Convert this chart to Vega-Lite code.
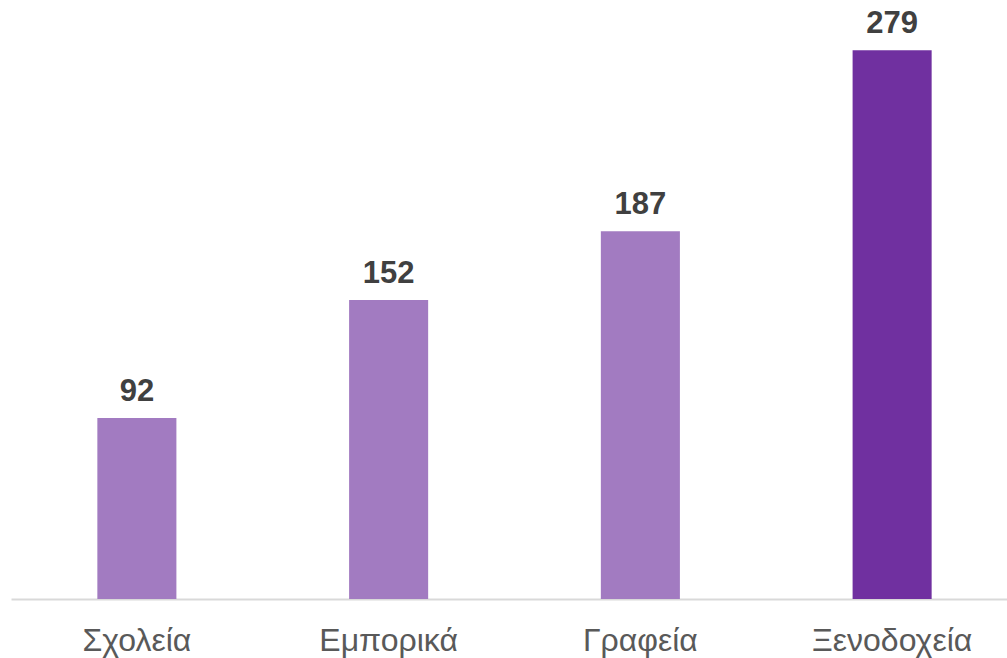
{
  "$schema": "https://vega.github.io/schema/vega-lite/v6.json",
  "width": 1007,
  "height": 590,
  "autosize": {"type": "none"},
  "padding": {"left": 11, "top": 9, "right": 0, "bottom": 59},
  "background": "white",
  "config": {"view": {"stroke": null}, "font": "Liberation Sans"},
  "data": {"values": [
    {"category": "Σχολεία", "value": 92, "highlight": "no"},
    {"category": "Εμπορικά", "value": 152, "highlight": "no"},
    {"category": "Γραφεία", "value": 187, "highlight": "no"},
    {"category": "Ξενοδοχεία", "value": 279, "highlight": "yes"}
  ]},
  "encoding": {
    "x": {"field": "category", "type": "nominal", "sort": null,
      "scale": {"paddingInner": 0.686, "paddingOuter": 0.343},
      "axis": {"title": null, "ticks": false, "domainColor": "#D9D9D9", "domainWidth": 2,
        "labelFont": "Liberation Sans", "labelFontSize": 32, "labelColor": "#595959",
        "labelAngle": 0, "labelBaseline": "alphabetic", "labelPadding": 51}},
    "y": {"field": "value", "type": "quantitative", "scale": {"domain": [0, 300]}, "axis": null}
  },
  "layer": [
    {"mark": {"type": "bar"},
     "encoding": {"color": {"field": "highlight", "type": "nominal",
       "scale": {"domain": ["no", "yes"], "range": ["#A27BC1", "#7030A0"]}, "legend": null}}},
    {"mark": {"type": "text", "fontSize": 31, "fontWeight": "bold", "color": "#404040", "baseline": "alphabetic", "dy": -17},
     "encoding": {"text": {"field": "value", "type": "quantitative"}}}
  ]
}
